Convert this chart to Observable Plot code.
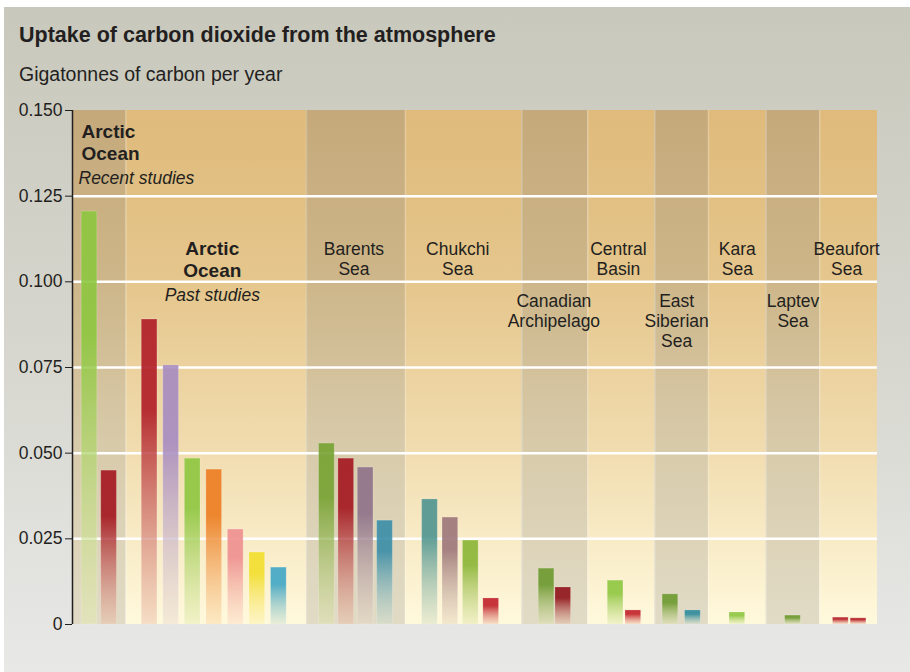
<!DOCTYPE html>
<html><head><meta charset="utf-8">
<script src="https://cdn.jsdelivr.net/npm/d3@7"></script>
<script src="https://cdn.jsdelivr.net/npm/@observablehq/plot@0.6"></script>
<style>
html,body{margin:0;padding:0;background:#fff;}
body{width:910px;height:672px;position:relative;overflow:hidden;font-family:"Liberation Sans",Arial,Helvetica,sans-serif;color:#231f20;}
#panel{position:absolute;left:4px;top:7px;width:906px;height:665px;background:linear-gradient(#c9c8bc 0%,#d6d6ce 50%,#e8e8e7 100%);}
#title{position:absolute;left:19px;top:25px;font-size:21.5px;line-height:21px;font-weight:bold;white-space:nowrap;}
#subtitle{position:absolute;left:19px;top:65px;font-size:19.5px;line-height:18px;white-space:nowrap;}
#chart{position:absolute;left:0;top:95px;}
</style></head><body>
<div id="panel"></div>
<div id="title">Uptake of carbon dioxide from the atmosphere</div>
<div id="subtitle">Gigatonnes of carbon per year</div>
<div id="chart"></div>
<script>
// ---- data ----
const regions = ["Arctic Ocean (recent studies)", "Arctic Ocean (past studies)", "Barents Sea", "Chukchi Sea",
  "Canadian Archipelago", "Central Basin", "East Siberian Sea", "Kara Sea", "Laptev Sea", "Beaufort Sea"];
const regionLabels = ["Arctic\nOcean", "Arctic\nOcean", "Barents\nSea", "Chukchi\nSea", "Canadian\nArchipelago",
  "Central\nBasin", "East\nSiberian\nSea", "Kara\nSea", "Laptev\nSea", "Beaufort\nSea"];
const studyLabels = ["Recent studies", "Past studies"];
const uptakeByRegion = [
  [0.1205, 0.0449],
  [0.0890, 0.0756, 0.0484, 0.0452, 0.0277, 0.0210, 0.0166],
  [0.0528, 0.0484, 0.0458, 0.0303],
  [0.0365, 0.0312, 0.0245, 0.0076],
  [0.0163, 0.0108],
  [0.0128, 0.0041],
  [0.0088, 0.0041],
  [0.0035],
  [0.0026],
  [0.0020, 0.0018]
];
const yTicks = [0, 0.025, 0.05, 0.075, 0.1, 0.125, 0.15];
const yTickLabels = ["0", "0.025", "0.050", "0.075", "0.100", "0.125", "0.150"];

// ---- styles & layout ----
const barColors = [
  ["#8dc63f", "#a3151f"],
  ["#b01c26", "#a68bc1", "#8dc63f", "#ec7c1f", "#ee8e8e", "#f2de2c", "#3fa5c4"],
  ["#76a232", "#a3151f", "#8e7189", "#3a8da8"],
  ["#4e9490", "#9c7579", "#8ab536", "#c1202a"],
  ["#6c992e", "#90131a"],
  ["#8dc63f", "#c1202a"],
  ["#6c992e", "#2e8a9c"],
  ["#8dc63f"],
  ["#6c992e"],
  ["#b51c24", "#b51c24"]
];
const bandUnits = [2.6, 8.75, 4.8, 5.65, 3.2, 3.25, 2.6, 2.8, 2.6, 2.8];
const barPitch = [0.95, 1.045, 0.94, 0.99, 0.81, 0.86, 1.09, 1, 1, 0.86];
const barShift = [0, -0.1, 0, -0.15, 0, 0.15, 0, 0, 0, 0.05];
const barWidth = 0.76;
const labelTop = [0.1465, 0.1125, 0.1119, 0.1119, 0.0967, 0.1119, 0.0967, 0.1119, 0.0967, 0.1119];
const labelDx = [9, -4, -2, -6, -1, -3, -5, 0, 0, -2];
const studyTop = [0.1323, 0.0979];
const ink = "#231f20";
const BAND = "#010203", BAR = "#040506";

// ---- derived geometry (scale units) ----
let acc = 0;
const bands = regions.map((name, r) => {
  const b = {name, r, x1: acc, x2: acc + bandUnits[r], shade: r % 2 === 0 ? "dark" : "light"};
  b.cx = (b.x1 + b.x2) / 2;
  acc += bandUnits[r];
  return b;
});
const total = acc;
const bars = [];
uptakeByRegion.forEach((vals, r) => {
  const n = vals.length;
  vals.forEach((v, i) => {
    const c = bands[r].cx + barShift[r] + (i - (n - 1) / 2) * barPitch[r];
    bars.push({region: regions[r], value: v, x1: c - barWidth / 2, x2: c + barWidth / 2, color: barColors[r][i]});
  });
});

const regionText = bands.slice(2).map(b => ({x: b.cx, y: labelTop[b.r], text: regionLabels[b.r], dx: labelDx[b.r]}));

const svg = Plot.plot({
  width: 910, height: 577,
  marginLeft: 72, marginRight: 33, marginTop: 15, marginBottom: 48,
  style: {fontFamily: '"Liberation Sans", Arial, Helvetica, sans-serif', fontSize: "17.5px", color: ink, background: "transparent", overflow: "visible"},
  x: {domain: [0, total], axis: null},
  y: {domain: [0, 0.15], ticks: yTicks, tickFormat: d => yTickLabels[yTicks.indexOf(d)], tickSize: 7, tickPadding: 3, label: null},
  marks: [
    Plot.rect(bands, {x1: "x1", x2: "x2", y1: 0, y2: 0.15, fill: BAND}),
    Plot.ruleX(bands.slice(1).map(b => b.x1), {y1: 0, y2: 0.15, stroke: "#fff", strokeOpacity: 0.22, strokeWidth: 1.5}),
    Plot.ruleY(yTicks.filter(t => t > 0 && t < 0.15), {stroke: "#fff", strokeWidth: 2.5}),
    Plot.rect(bars, {x1: "x1", x2: "x2", y1: 0, y2: "value", fill: BAR, fillOpacity: 0.9, stroke: "#fff", strokeOpacity: 0.18, strokeWidth: 1}),
    Plot.ruleX([0], {y1: 0, y2: 0.15, stroke: ink, strokeWidth: 1.5}),
    Plot.text([{x: 0, y: labelTop[0], text: regionLabels[0]}], {x: "x", y: "y", text: "text", dx: labelDx[0], textAnchor: "start", lineAnchor: "top", fontSize: 19, fontWeight: "bold", lineHeight: 1.16, fill: ink}),
    Plot.text([{x: 0, y: studyTop[0], text: studyLabels[0]}], {x: "x", y: "y", text: "text", dx: 6, textAnchor: "start", lineAnchor: "top", fontSize: 17.5, fontStyle: "italic", fill: ink}),
    Plot.text([{x: bands[1].cx, y: labelTop[1], text: regionLabels[1]}], {x: "x", y: "y", text: "text", dx: labelDx[1], textAnchor: "middle", lineAnchor: "top", fontSize: 19, fontWeight: "bold", lineHeight: 1.16, fill: ink}),
    Plot.text([{x: bands[1].cx, y: studyTop[1], text: studyLabels[1]}], {x: "x", y: "y", text: "text", dx: labelDx[1], textAnchor: "middle", lineAnchor: "top", fontSize: 17.5, fontStyle: "italic", fill: ink}),
    ...regionText.map(t => Plot.text([t], {x: "x", y: "y", text: "text", dx: t.dx, textAnchor: "middle", lineAnchor: "top", fontSize: 17.5, lineHeight: 1.14, fill: ink}))
  ]
});

// gradients
const root = d3.select(svg);
const defs = root.insert("defs", ":first-child");
function grad(id, stops) {
  const g = defs.append("linearGradient").attr("id", id).attr("x1", 0).attr("y1", 0).attr("x2", 0).attr("y2", 1);
  stops.forEach(([o, c, op]) => g.append("stop").attr("offset", o).attr("stop-color", c).attr("stop-opacity", op == null ? 1 : op));
}
grad("band-light", [[0, "#dfba7b"], [0.33, "#e5c68c"], [0.66, "#f1dcaf"], [1, "#fff9dc"]]);
grad("band-dark", [[0, "#c5a97b"], [0.33, "#cdb689"], [0.66, "#d8cbab"], [1, "#e1dbc6"]]);
bars.forEach((b, k) => {
  const light = d3.interpolateRgb(b.color, "#fff6d6")(0.75);
  grad("bar-" + k, [[0, b.color, 1], [0.3, b.color, 1], [1, light, 0.55]]);
});
function paint(sentinel, fn) {
  root.selectAll("g").filter(function () {
    const f = (this.getAttribute("fill") || "").toLowerCase();
    return f === sentinel || f === d3.color(sentinel).toString();
  }).selectAll("rect").attr("fill", fn);
}
paint(BAND, (d, i) => "url(#band-" + bands[i].shade + ")");
paint(BAR, (d, i) => "url(#bar-" + i + ")");

document.getElementById("chart").appendChild(svg);
</script></body></html>
